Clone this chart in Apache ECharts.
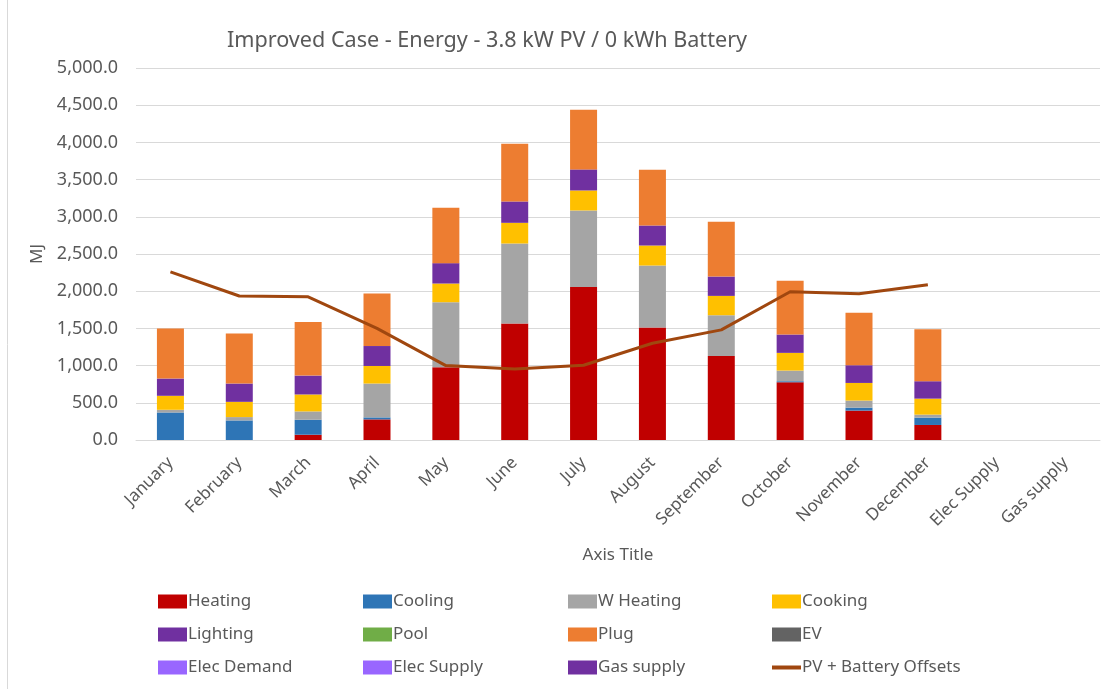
<!DOCTYPE html>
<html>
<head>
<meta charset="utf-8">
<title>Improved Case - Energy</title>
<script src="https://cdn.jsdelivr.net/npm/echarts@6/dist/echarts.min.js"></script>
<style>
	html, body { margin: 0; padding: 0; background: #fff; }
	#chart { width: 1105px; height: 689px; }
</style>
</head>
<body>
<div id="chart"></div>
<script>
// 月份 + 两个空类别
var categories = ['January', 'February', 'March', 'April', 'May', 'June', 'July', 'August',
	'September', 'October', 'November', 'December', 'Elec Supply', 'Gas supply'];
var yTicks = [0, 500, 1000, 1500, 2000, 2500, 3000, 3500, 4000, 4500, 5000];

var heating = [0, 0, 71, 277, 977, 1565, 2058, 1511, 1130, 776, 395, 202];
var cooling = [370, 263, 201, 27, 0, 0, 0, 0, 0, 14, 40, 99];
var wHeating = [36, 45, 112, 455, 875, 1076, 1027, 834, 547, 143, 95, 40];
var cooking = [188, 205, 228, 236, 251, 278, 269, 269, 260, 238, 237, 215];
var lighting = [232, 246, 254, 268, 274, 287, 283, 269, 260, 247, 238, 234];
var pool = [];
var plug = [674, 674, 719, 706, 744, 776, 802, 749, 736, 723, 705, 700];
var ev = [];
var elecDemand = [];
var elecSupply = [];
var gasSupply = [];
var pvOffsets = [2260, 1935, 1925, 1500, 1000, 955, 1005, 1300, 1480, 1993, 1966, 2087];

var textColor = '#595959';
var font = 'Noto Sans';

function chart() {
	var myChart = echarts.init(document.getElementById('chart'));

	var bars = [
		{ name: 'Heating', data: heating, color: '#C00000' },
		{ name: 'Cooling', data: cooling, color: '#2E75B6' },
		{ name: 'W Heating', data: wHeating, color: '#A5A5A5' },
		{ name: 'Cooking', data: cooking, color: '#FFC000' },
		{ name: 'Lighting', data: lighting, color: '#7030A0' },
		{ name: 'Pool', data: pool, color: '#70AD47' },
		{ name: 'Plug', data: plug, color: '#ED7D31' },
		{ name: 'EV', data: ev, color: '#636363' },
		{ name: 'Elec Demand', data: elecDemand, color: '#9966FF' },
		{ name: 'Elec Supply', data: elecSupply, color: '#9966FF' },
		{ name: 'Gas supply', data: gasSupply, color: '#7030A0' }
	];

	var series = [];
	for (var i = 0; i < bars.length; i++) {
		series.push({
			name: bars[i].name,
			type: 'bar',
			stack: 'energy',
			barWidth: 27,
			data: bars[i].data,
			itemStyle: { color: bars[i].color },
			emphasis: { disabled: true }
		});
	}
	series.push({
		name: 'PV + Battery Offsets',
		type: 'line',
		data: pvOffsets,
		symbol: 'none',
		lineStyle: { color: '#A0470F', width: 3 },
		itemStyle: { color: '#A0470F' },
		z: 5
	});

	// 图例：4列3行，每项单独定位
	var names = [];
	for (var k = 0; k < bars.length; k++) names.push(bars[k].name);
	names.push('PV + Battery Offsets');
	var colX = [158, 363, 568, 772];
	var rowY = [593, 626, 659];
	var legends = [];
	for (var j = 0; j < names.length; j++) {
		var isLine = names[j] === 'PV + Battery Offsets';
		legends.push({
			left: colX[j % 4],
			top: rowY[Math.floor(j / 4)],
			orient: 'horizontal',
			data: [{ name: names[j], icon: 'rect' }],
			itemWidth: 29,
			itemHeight: isLine ? 4 : 14,
			itemGap: 0,
			padding: 0,
			selectedMode: false,
			textStyle: { color: textColor, fontSize: 17, fontFamily: font, padding: [0, 0, 0, -4] }
		});
	}

	var option = {
		animation: false,
		title: {
			text: 'Improved Case - Energy - 3.8 kW PV / 0 kWh Battery',
			left: 482,
			textAlign: 'center',
			top: 25,
			textStyle: { color: textColor, fontSize: 21.6, fontWeight: 'normal', fontFamily: font }
		},
		legend: legends,
		grid: {
			left: 136,
			right: 5,
			top: 68,
			bottom: 249
		},
		xAxis: {
			type: 'category',
			data: categories,
			name: 'Axis Title',
			nameLocation: 'middle',
			nameGap: 107,
			nameTextStyle: { color: textColor, fontSize: 17, fontFamily: font },
			axisTick: { show: false },
			axisLine: { lineStyle: { color: '#D9D9D9' } },
			axisLabel: {
				rotate: 45,
				interval: 0,
				margin: 20,
				color: textColor,
				fontSize: 17,
				fontFamily: font
			}
		},
		yAxis: {
			type: 'value',
			min: yTicks[0],
			max: yTicks[yTicks.length - 1],
			interval: 500,
			name: 'MJ',
			nameLocation: 'middle',
			nameGap: 90,
			nameTextStyle: { color: textColor, fontSize: 17, fontFamily: font },
			axisLine: { show: false },
			axisTick: { show: false },
			splitLine: { lineStyle: { color: '#D9D9D9' } },
			axisLabel: {
				color: textColor,
				fontSize: 18,
				fontFamily: font,
				margin: 18,
				formatter: function(v) {
					return v.toLocaleString('en-US', { minimumFractionDigits: 1, maximumFractionDigits: 1 });
				}
			}
		},
		graphic: [{
			type: 'line',
			shape: { x1: 7.5, y1: 0, x2: 7.5, y2: 689 },
			style: { stroke: '#D9D9D9', lineWidth: 1 }
		}],
		series: series
	};
	myChart.setOption(option);
}
chart();
</script>
</body>
</html>
